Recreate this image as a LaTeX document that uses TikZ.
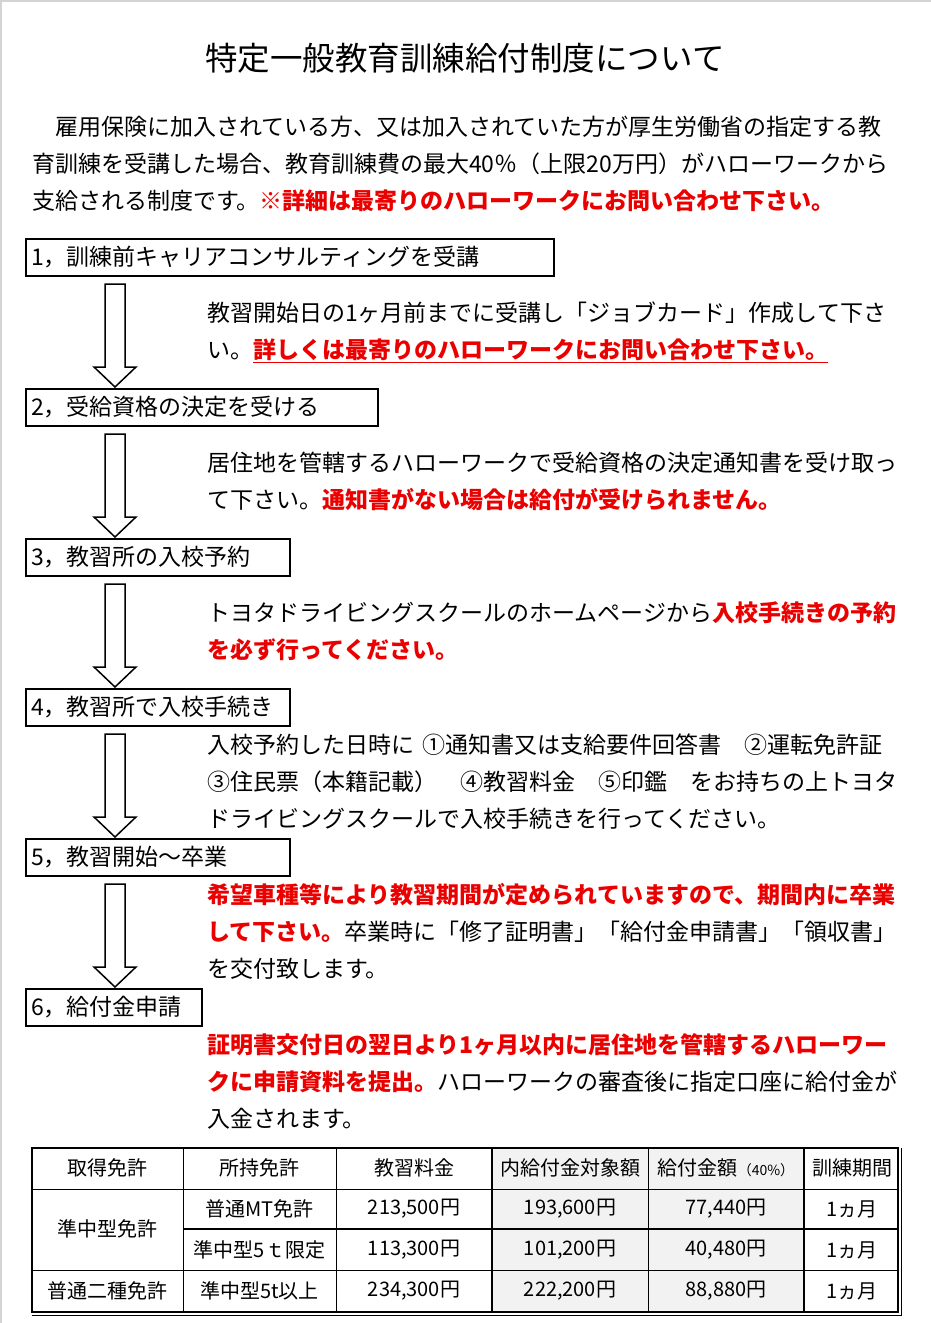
\documentclass[tikz,border=0pt]{standalone}
\usepackage{fontspec}
\setmainfont{Noto Sans CJK JP}
\usetikzlibrary{calc}

\definecolor{notered}{RGB}{235,0,0}
\definecolor{cellgray}{RGB}{242,242,242}
\definecolor{pagegray}{RGB}{212,212,212}

\tikzset{
  stepbox/.style={draw, line width=2pt, anchor=north west, minimum height=37pt,
    inner xsep=5pt, inner ysep=0pt, align=left, font=\fontsize{23}{28}\selectfont},
  desc/.style={anchor=north west, inner sep=0pt, align=left, font=\fontsize{23}{37}\selectfont},
  hollow/.style={draw, line width=1.5pt, fill=white, line join=miter},
  cell/.style={inner sep=0pt, font=\fontsize{20}{24}\selectfont},
  grid/.style={line width=1pt},
}
\newcommand{\hl}[1]{\textcolor{notered}{\bfseries #1}}

\begin{document}
\begin{tikzpicture}[x=1pt, y=-1pt]

\useasboundingbox (0,0) rectangle (931,1323);
\fill[pagegray] (0,0) rectangle (2,1323);
\fill[pagegray] (0,0) rectangle (931,2);

% title and introduction
\node[font=\fontsize{32.5}{36}\selectfont] (title) at (465,58) {特定一般教育訓練給付制度について};
\node[desc] (intro) at (32,115.5) {　雇用保険に加入されている方、又は加入されていた方が厚生労働省の指定する教\\
育訓練を受講した場合、教育訓練費の最大40％（上限20万円）がハローワークから\\
支給される制度です。\hl{※詳細は最寄りのハローワークにお問い合わせ下さい。}};

% steps
\node[stepbox, text width=518pt] (s1) at (25,238) {1，訓練前キャリアコンサルティングを受講};
\node[stepbox, text width=342pt] (s2) at (25,388) {2，受給資格の決定を受ける};
\node[stepbox, text width=254pt] (s3) at (25,538) {3，教習所の入校予約};
\node[stepbox, text width=254pt] (s4) at (25,688) {4，教習所で入校手続き};
\node[stepbox, text width=254pt] (s5) at (25,838) {5，教習開始～卒業};
\node[stepbox, text width=166pt] (s6) at (25,988) {6，給付金申請};

\coordinate (ax) at (115,0);
\foreach \a/\b in {s1/s2,s2/s3,s3/s4,s4/s5,s5/s6}
  \draw[hollow] ($(\a.south -| ax)+(-10,7)$) -- ($(\b.north -| ax)+(-10,-21)$) -- ++(-11,0)
    -- ($(\b.north -| ax)+(0,-1)$) -- ++(21,-20) -- ++(-11,0) -- ($(\a.south -| ax)+(10,7)$) -- cycle;

% step texts
\node[desc] (d1) at (207,301.5) {教習開始日の1ヶ月前までに受講し「ジョブカード」作成して下さ\\
い。\textcolor{notered}{\bfseries\underline{詳しくは最寄りのハローワークにお問い合わせ下さい。}}};
\node[desc] (d2) at (207,451.5) {居住地を管轄するハローワークで受給資格の決定通知書を受け取っ\\
て下さい。\hl{通知書がない場合は給付が受けられません。}};
\node[desc] (d3) at (207,601.5) {トヨタドライビングスクールのホームページから\hl{入校手続きの予約}\\
\hl{を必ず行ってください。}};
\node[desc] (d4) at (207,733.5) {入校予約した日時に\hspace{8pt}①通知書又は支給要件回答書　②運転免許証\\
③住民票（本籍記載）　④教習料金　⑤印鑑　をお持ちの上トヨタ\\
ドライビングスクールで入校手続きを行ってください。};
\node[desc] (d5) at (207,883.5) {\hl{希望車種等により教習期間が定められていますので、期間内に卒業}\\
\hl{して下さい。}卒業時に「修了証明書」「給付金申請書」「領収書」\\
を交付致します。};
\node[desc] (d6) at (207,1033.5) {\hl{証明書交付日の翌日より1ヶ月以内に居住地を管轄するハローワー}\\
\hl{クに申請資料を提出。}ハローワークの審査後に指定口座に給付金が\\
入金されます。};

% table
\fill[cellgray] (492,1148) rectangle (804,1312);
\draw[grid] (32,1189) -- (898,1189);
\draw[grid] (32,1270) -- (898,1270);
\draw[line width=2pt] (183,1229) -- (898,1229);
\foreach \x in {183,336,648}
  \draw[grid] (\x,1148) -- (\x,1312);
\draw[line width=2pt] (492,1148) rectangle (804,1312);
\draw[line width=1.5pt] (32,1148) rectangle (898,1312);
\draw[line width=2pt] (32,1148) -- (898,1148);
\draw[line width=1pt] (32,1315) -- (901,1315) -- (901,1148);

\node[cell] (h1) at (107.5,1168) {取得免許};
\node[cell] (h2) at (259.5,1168) {所持免許};
\node[cell] (h3) at (414,1168) {教習料金};
\node[cell] (h4) at (570,1168) {内給付金対象額};
\node[cell] (h5) at (726,1168) {給付金額{\fontsize{14}{16}\selectfont （40\%）}};
\node[cell] (h6) at (852,1168) {訓練期間};

\node[cell] (r1) at (107.5,1229) {準中型免許};
\node[cell] (r12) at (259.5,1209) {普通MT免許};
\node[cell] (r13) at (414,1209) {213,500円};
\node[cell] (r14) at (570,1209) {193,600円};
\node[cell] (r15) at (726,1209) {77,440円};
\node[cell] (r16) at (852,1209) {1ヵ月};

\node[cell] (r22) at (259.5,1250) {準中型5ｔ限定};
\node[cell] (r23) at (414,1250) {113,300円};
\node[cell] (r24) at (570,1250) {101,200円};
\node[cell] (r25) at (726,1250) {40,480円};
\node[cell] (r26) at (852,1250) {1ヵ月};

\node[cell] (r31) at (107.5,1291) {普通二種免許};
\node[cell] (r32) at (259.5,1291) {準中型5t以上};
\node[cell] (r33) at (414,1291) {234,300円};
\node[cell] (r34) at (570,1291) {222,200円};
\node[cell] (r35) at (726,1291) {88,880円};
\node[cell] (r36) at (852,1291) {1ヵ月};

\end{tikzpicture}
\end{document}
